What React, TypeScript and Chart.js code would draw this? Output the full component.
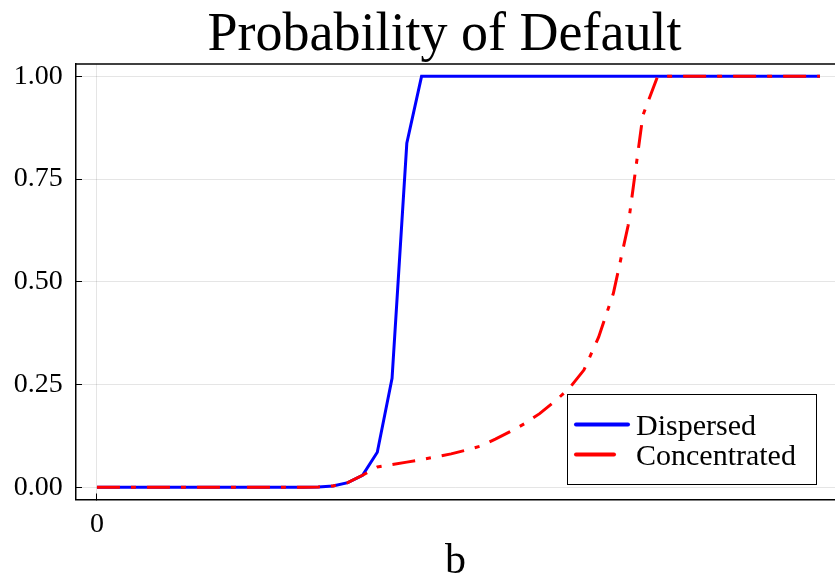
import React, { useEffect, useRef } from "react";
import { Chart, registerables } from "chart.js";

Chart.register(...registerables);

const titleText = "Probability of Default";
const xAxisLabel = "b";
const seriesLabels = ["Dispersed", "Concentrated"];

const bValues = [
  0, 1, 2, 3, 4, 5, 6, 7, 8, 9,
  10, 11, 12, 13, 14, 15, 16, 17, 18, 19,
  20, 21, 22, 23, 24, 25, 26, 27, 28, 29,
  30, 31, 32, 33, 34, 35, 36, 37, 38, 39,
  40, 41, 42, 43, 44, 45, 46, 47, 48, 49,
];

const dispersed = [
  0, 0, 0, 0, 0, 0, 0, 0, 0, 0,
  0, 0, 0, 0, 0, 0.0005, 0.003, 0.011, 0.029, 0.085,
  0.265, 0.837, 1, 1, 1, 1, 1, 1, 1, 1,
  1, 1, 1, 1, 1, 1, 1, 1, 1, 1,
  1, 1, 1, 1, 1, 1, 1, 1, 1, 1,
];

const concentrated = [
  0, 0, 0, 0, 0, 0, 0, 0, 0, 0,
  0, 0, 0, 0, 0, 0.0005, 0.003, 0.011, 0.029, 0.049,
  0.055, 0.061, 0.067, 0.074, 0.081, 0.09, 0.1, 0.117, 0.135, 0.155,
  0.179, 0.208, 0.24, 0.285, 0.365, 0.472, 0.637, 0.905, 1, 1,
  1, 1, 1, 1, 1, 1, 1, 1, 1, 1,
];

const yTickValues = [0, 0.25, 0.5, 0.75, 1];
const xTickValues = [0];

const FONT = "'Liberation Serif', 'Times New Roman', serif";

const titlePlugin = {
  id: "customTitle",
  afterDraw(chart: any) {
    const ctx = chart.ctx;
    ctx.save();
    ctx.fillStyle = "#000";
    ctx.font = `54px ${FONT}`;
    ctx.textAlign = "center";
    ctx.textBaseline = "alphabetic";
    ctx.fillText(titleText, 444.5, 50);
    ctx.restore();
  },
};

const framePlugin = {
  id: "topFrame",
  beforeDatasetsDraw(chart: any) {
    const { ctx, chartArea } = chart;
    ctx.save();
    ctx.strokeStyle = "#000";
    ctx.lineWidth = 1.5;
    ctx.beginPath();
    ctx.moveTo(chartArea.left, chartArea.top);
    ctx.lineTo(chartArea.right, chartArea.top);
    ctx.stroke();
    ctx.restore();
  },
};

const legendPlugin = {
  id: "boxLegend",
  afterDraw(chart: any) {
    const { ctx, chartArea } = chart;
    const w = 249;
    const h = 90;
    const right = chartArea.right - 19;
    const bottom = chartArea.bottom - 15.5;
    const left = right - w;
    const top = bottom - h;
    ctx.save();
    ctx.fillStyle = "#fff";
    ctx.fillRect(left, top, w, h);
    ctx.strokeStyle = "#000";
    ctx.lineWidth = 1;
    ctx.strokeRect(Math.round(left) + 0.5, Math.round(top) + 0.5, w, h);
    chart.data.datasets.forEach((ds: any, i: number) => {
      const y = top + 30.5 + i * 30;
      ctx.strokeStyle = ds.borderColor;
      ctx.lineWidth = 4;
      ctx.lineCap = "round";
      ctx.setLineDash(ds.borderDash && ds.borderDash.length ? [38, 40] : []);
      ctx.beginPath();
      ctx.moveTo(left + 9, y);
      ctx.lineTo(left + 61, y);
      ctx.stroke();
      ctx.setLineDash([]);
      ctx.fillStyle = "#000";
      ctx.font = `30px ${FONT}`;
      ctx.textAlign = "left";
      ctx.textBaseline = "alphabetic";
      ctx.fillText(ds.label, left + 69, y + 10.5);
    });
    ctx.restore();
  },
};

export default function App() {
  const ref = useRef<HTMLCanvasElement | null>(null);

  useEffect(() => {
    if (!ref.current) return;
    const chart = new Chart(ref.current, {
      type: "line",
      data: {
        datasets: [
          {
            label: seriesLabels[0],
            data: bValues.map((b, i) => ({ x: b, y: dispersed[i] })),
            borderColor: "#0000ff",
            backgroundColor: "#0000ff",
            borderWidth: 3,
            pointRadius: 0,
            tension: 0,
            order: 1,
          },
          {
            label: seriesLabels[1],
            data: bValues.map((b, i) => ({ x: b, y: concentrated[i] })),
            borderColor: "#ff0000",
            backgroundColor: "#ff0000",
            borderWidth: 3,
            borderDash: [23, 11, 5, 11],
            pointRadius: 0,
            tension: 0,
            order: 0,
          },
        ],
      },
      options: {
        responsive: false,
        animation: false,
        layout: { padding: { top: 64, left: 0, right: 0, bottom: 0 } },
        plugins: {
          legend: { display: false },
          title: { display: false },
          tooltip: { enabled: false },
        },
        scales: {
          x: {
            type: "linear",
            min: -1.42,
            max: 50.02,
            afterBuildTicks: (scale: any) => {
              scale.ticks = xTickValues.map((v) => ({ value: v }));
            },
            afterFit: (scale: any) => {
              scale.height = 77.5;
            },
            grid: {
              color: "rgba(0,0,0,0.1)",
              lineWidth: 1,
              drawTicks: true,
              tickLength: -6,
              tickColor: "#000",
              tickWidth: 1,
            },
            border: { display: true, color: "#000", width: 1.5 },
            ticks: {
              color: "#000",
              font: { family: FONT, size: 28 },
              padding: 14.2,
              maxRotation: 0,
              callback: (v: any) => String(v),
            },
            title: {
              display: true,
              text: xAxisLabel,
              color: "#000",
              font: { family: FONT, size: 42, lineHeight: 0.72 },
              padding: 0,
            },
          },
          y: {
            type: "linear",
            min: -0.03,
            max: 1.03,
            afterBuildTicks: (scale: any) => {
              scale.ticks = yTickValues.map((v) => ({ value: v }));
            },
            afterFit: (scale: any) => {
              scale.width = 76;
            },
            grid: {
              color: "rgba(0,0,0,0.1)",
              lineWidth: 1,
              drawTicks: true,
              tickLength: -6,
              tickColor: "#000",
              tickWidth: 1,
            },
            border: { display: true, color: "#000", width: 1.5 },
            ticks: {
              color: "#000",
              font: { family: FONT, size: 28 },
              padding: 19.3,
              callback: (v: any) => Number(v).toFixed(2),
            },
          },
        },
      },
      plugins: [framePlugin, titlePlugin, legendPlugin],
    } as any);
    return () => chart.destroy();
  }, []);

  return (
    <div style={{ position: "fixed", left: 0, top: 0, width: 835, height: 577, background: "#fff" }}>
      <canvas ref={ref} width={835} height={577} style={{ display: "block" }} />
    </div>
  );
}
